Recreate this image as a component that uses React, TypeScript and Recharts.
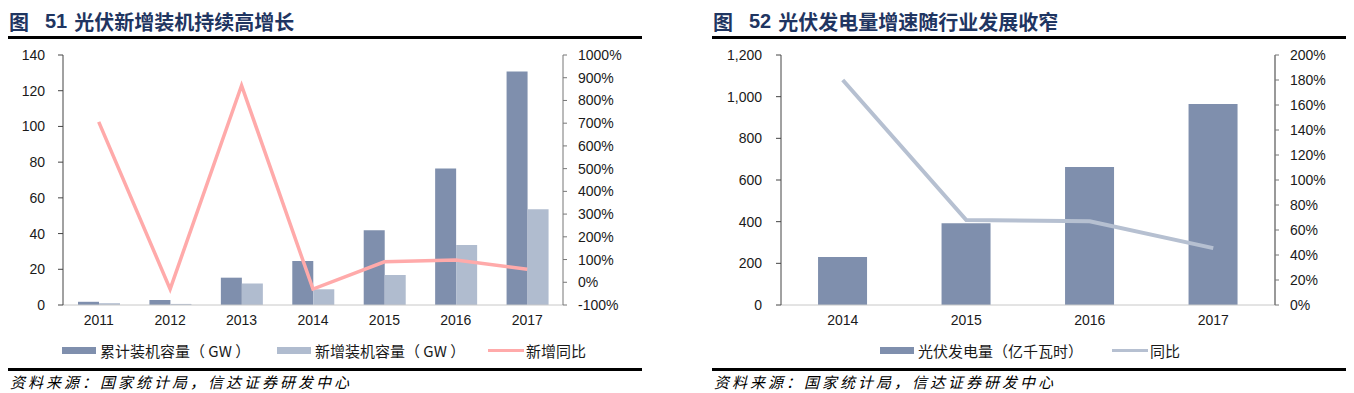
import React from 'react'
import { ComposedChart, Bar, Line, XAxis, YAxis } from 'recharts'

// 图51
const years51 = ['2011', '2012', '2013', '2014', '2015', '2016', '2017']
const cumulativeGW = [1.8, 2.8, 15.3, 24.6, 41.8, 76.4, 130.7]
const newGW = [1.0, 0.6, 12.1, 8.8, 16.8, 33.6, 53.6]
const newYoY = [706, -30, 866, -30, 90, 98, 57]
const ticks51Left = [0, 20, 40, 60, 80, 100, 120, 140]
const ticks51Right = [-100, 0, 100, 200, 300, 400, 500, 600, 700, 800, 900, 1000]

// 图52
const years52 = ['2014', '2015', '2016', '2017']
const generation = [231, 392, 662, 965]
const genYoY = [180, 68, 67, 45.5]
const ticks52Left = [0, 200, 400, 600, 800, 1000, 1200]
const ticks52Right = [0, 20, 40, 60, 80, 100, 120, 140, 160, 180, 200]

const DARK = '#7f8fad'
const LIGHT = '#b0bccf'
const PINK = '#ffaaaa'
const GREYLINE = '#b6c0d1'

const data51 = years51.map((y, i) => ({ year: y, cum: cumulativeGW[i], add: newGW[i], yoy: newYoY[i] }))
const data52 = years52.map((y, i) => ({ year: y, gen: generation[i], yoy: genYoY[i] }))

const tickFont = { fontFamily: '"Liberation Sans", Arial, sans-serif', fontSize: 14, fill: '#1a1a1a' }
const cjk = '"Noto Sans CJK SC", sans-serif'

function Title({ left, num, text }: { left: number; num: string; text: string }) {
  return (
    <div style={{ position: 'absolute', left, top: 7, height: 28, display: 'flex', alignItems: 'center', color: '#1f3561', fontWeight: 700, fontSize: 20, fontFamily: cjk, whiteSpace: 'nowrap' }}>
      <span>图</span>
      <span style={{ marginLeft: 16, fontFamily: '"Liberation Sans", Arial, sans-serif' }}>{num}</span>
      <span style={{ marginLeft: 7 }}>{text}</span>
    </div>
  )
}

function Rule({ left, top }: { left: number; top: number }) {
  return <div style={{ position: 'absolute', left, top, width: 634, height: 3, background: '#000' }} />
}

function Source({ left }: { left: number }) {
  return (
    <div style={{ position: 'absolute', left, top: 373, fontSize: 15, fontStyle: 'italic', fontFamily: cjk, letterSpacing: 3, color: '#000', whiteSpace: 'nowrap', lineHeight: '17px' }}>
      资料来源：国家统计局，信达证券研发中心
    </div>
  )
}

function LegendItem({ left, color, label, line }: { left: number; color: string; label: string; line?: boolean }) {
  return (
    <div style={{ position: 'absolute', left, top: 339, height: 22, display: 'flex', alignItems: 'center', whiteSpace: 'pre' }}>
      <div style={{ width: line ? 36 : 34, height: line ? 3 : 7, background: color, marginRight: line ? 2 : 4 }} />
      <span style={{ fontFamily: cjk, fontSize: 15, color: '#1a1a1a' }}>{label}</span>
    </div>
  )
}

export default function App() {
  return (
    <div style={{ position: 'absolute', left: 0, top: 0, width: 1354, height: 393, background: '#fff', overflow: 'hidden' }}>
      <Title left={9} num="51" text="光伏新增装机持续高增长" />
      <Rule left={8} top={36} />
      <div style={{ position: 'absolute', left: 0, top: 0 }}>
        <ComposedChart width={660} height={340} data={data51} margin={{ top: 55, right: 37, bottom: 5, left: 0 }} barCategoryGap="21%" barGap={0}>
          <XAxis dataKey="year" tick={tickFont} axisLine={{ stroke: '#c8c8c8' }} tickLine={false} tickMargin={4} height={30} />
          <YAxis yAxisId="l" domain={[0, 140]} ticks={ticks51Left} width={63} tick={tickFont} axisLine={{ stroke: '#444' }} tickLine={{ stroke: '#444' }} tickSize={5} tickMargin={13} />
          <YAxis yAxisId="r" orientation="right" domain={[-100, 1000]} ticks={ticks51Right} tickFormatter={(v: number) => `${v}%`} width={60} tick={{ ...tickFont, textAnchor: 'start' }} axisLine={{ stroke: '#777' }} tickLine={{ stroke: '#777' }} tickSize={4} tickMargin={11} />
          <Bar yAxisId="l" dataKey="cum" fill={DARK} isAnimationActive={false} />
          <Bar yAxisId="l" dataKey="add" fill={LIGHT} isAnimationActive={false} />
          <Line yAxisId="r" dataKey="yoy" stroke={PINK} strokeWidth={3.5} dot={false} isAnimationActive={false} />
        </ComposedChart>
      </div>
      <LegendItem left={62} color={DARK} label="累计装机容量（ GW ）" />
      <LegendItem left={277} color={LIGHT} label="新增装机容量（ GW ）" />
      <LegendItem left={488} color={PINK} label="新增同比" line />
      <Rule left={8} top={368} />
      <Source left={10} />

      <Title left={713} num="52" text="光伏发电量增速随行业发展收窄" />
      <Rule left={712} top={36} />
      <div style={{ position: 'absolute', left: 700, top: 0 }}>
        <ComposedChart width={654} height={340} data={data52} margin={{ top: 55, right: 19, bottom: 5, left: 1 }} barCategoryGap="30%">
          <XAxis dataKey="year" tick={tickFont} axisLine={{ stroke: '#c8c8c8' }} tickLine={false} tickMargin={4} height={30} />
          <YAxis yAxisId="l" domain={[0, 1200]} ticks={ticks52Left} tickFormatter={(v: number) => v.toLocaleString('en-US')} width={80} tick={tickFont} axisLine={{ stroke: '#444' }} tickLine={{ stroke: '#444' }} tickSize={5} tickMargin={14} />
          <YAxis yAxisId="r" orientation="right" domain={[0, 200]} ticks={ticks52Right} tickFormatter={(v: number) => `${v}%`} width={60} tick={{ ...tickFont, textAnchor: 'start' }} axisLine={{ stroke: '#777', strokeWidth: 1.5 }} tickLine={{ stroke: '#777' }} tickSize={4} tickMargin={11} />
          <Bar yAxisId="l" dataKey="gen" fill={DARK} isAnimationActive={false} />
          <Line yAxisId="r" dataKey="yoy" stroke={GREYLINE} strokeWidth={4} dot={false} isAnimationActive={false} />
        </ComposedChart>
      </div>
      <LegendItem left={880} color={DARK} label="光伏发电量（亿千瓦时）" />
      <LegendItem left={1112} color={GREYLINE} label="同比" line />
      <Rule left={712} top={368} />
      <Source left={714} />
    </div>
  )
}
